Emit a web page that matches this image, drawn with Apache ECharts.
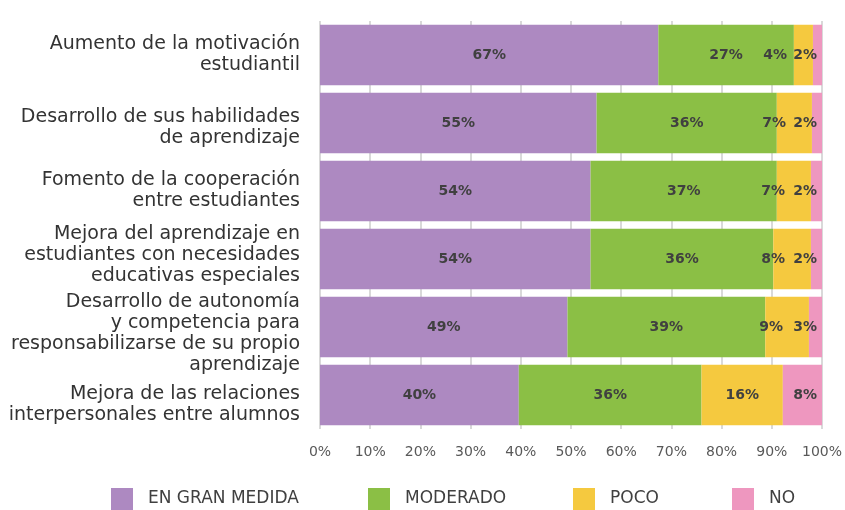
<!DOCTYPE html>
<html>
<head>
<meta charset="utf-8">
<script src="https://cdn.jsdelivr.net/npm/echarts@6/dist/echarts.min.js"></script>
<style>
  html, body { margin: 0; padding: 0; background: #fff; }
  #chart { width: 845px; height: 510px; }
</style>
</head>
<body>
<div id="chart"></div>
<script>
// categorías (de arriba a abajo)
const categories = [
  'Aumento de la motivación\nestudiantil',
  'Desarrollo de sus habilidades\nde aprendizaje',
  'Fomento de la cooperación\nentre estudiantes',
  'Mejora del aprendizaje en\nestudiantes con necesidades\neducativas especiales',
  'Desarrollo de autonomía\ny competencia para\nresponsabilizarse de su propio\naprendizaje',
  'Mejora de las relaciones\ninterpersonales entre alumnos'
]

const seriesNames = ['EN GRAN MEDIDA', 'MODERADO', 'POCO', 'NO']

const enGranMedida = [67.4, 55.1, 53.9, 53.9, 49.3, 39.6]
const moderado = [27.0, 35.9, 37.1, 36.4, 39.4, 36.4]
const poco = [3.8, 7.0, 6.8, 7.5, 8.7, 16.2]
const no = [1.8, 2.0, 2.2, 2.2, 2.6, 7.8]

const xTicks = ['0%', '10%', '20%', '30%', '40%', '50%', '60%', '70%', '80%', '90%', '100%']

const colors = ['#AD89C1', '#8BBF45', '#F5C93F', '#EE97BF']

const fontFamily = 'DejaVu Sans'

// desplazamiento vertical de cada etiqueta de categoría (como en el original)
const labelShift = [0, 5, 0, -4, 7, 10]
// posición izquierda de cada entrada de la leyenda
const legendLeft = [106, 363, 568, 727]
// las etiquetas de segmentos pequeños van pegadas a la derecha
const smallLabelDistance = [5, 5, 26, 5]

const buildData = (values, i) => values.map(v => ({
  value: v,
  label: v < 10 ? { position: 'insideRight', distance: smallLabelDistance[i] } : {}
}))

const allValues = [enGranMedida, moderado, poco, no]

// línea vacía de relleno para mover el bloque de texto arriba o abajo
const spacerRich = {}
labelShift.forEach((s, i) => {
  spacerRich['sp' + i] = { lineHeight: Math.max(1, Math.abs(s) * 2), fontSize: 1 }
})

const chart = echarts.init(document.getElementById('chart'))

chart.setOption({
  animation: false,
  grid: {
    left: 320,
    right: 22,
    top: 21,
    bottom: 81,
    containLabel: false
  },
  legend: seriesNames.map((name, i) => ({
    left: legendLeft[i],
    bottom: -5,
    icon: 'rect',
    itemWidth: 22,
    itemHeight: 22,
    data: [name],
    textStyle: {
      fontFamily,
      fontSize: 17,
      color: '#404040',
      padding: [0, 0, 0, 10]
    }
  })),
  xAxis: {
    type: 'value',
    min: 0,
    max: 100,
    interval: 10,
    axisLine: { show: false },
    axisTick: { show: false },
    axisLabel: {
      color: '#595959',
      fontFamily,
      fontSize: 14,
      margin: 16,
      formatter: (v) => xTicks[Math.round(v / 10)]
    },
    splitLine: {
      lineStyle: { color: '#D9D9D9', width: 2 }
    }
  },
  yAxis: {
    type: 'category',
    inverse: true,
    data: categories,
    axisLine: { show: false },
    axisTick: { show: false },
    axisLabel: {
      interval: 0,
      color: '#333',
      fontFamily,
      fontSize: 19,
      lineHeight: 21,
      margin: 20,
      align: 'right',
      rich: spacerRich,
      formatter: (v, i) => {
        const s = labelShift[i]
        if (s > 0) return '{sp' + i + '| }\n' + v
        if (s < 0) return v + '\n{sp' + i + '| }'
        return v
      }
    }
  },
  series: allValues.map((vals, i) => ({
    name: seriesNames[i],
    type: 'bar',
    stack: 'total',
    barCategoryGap: '11%',
    itemStyle: { color: colors[i] },
    label: {
      show: true,
      position: 'inside',
      color: '#404040',
      fontFamily,
      fontSize: 14,
      fontWeight: 'bold',
      formatter: (p) => Math.round(p.value) + '%'
    },
    data: buildData(vals, i)
  }))
})
</script>
</body>
</html>
